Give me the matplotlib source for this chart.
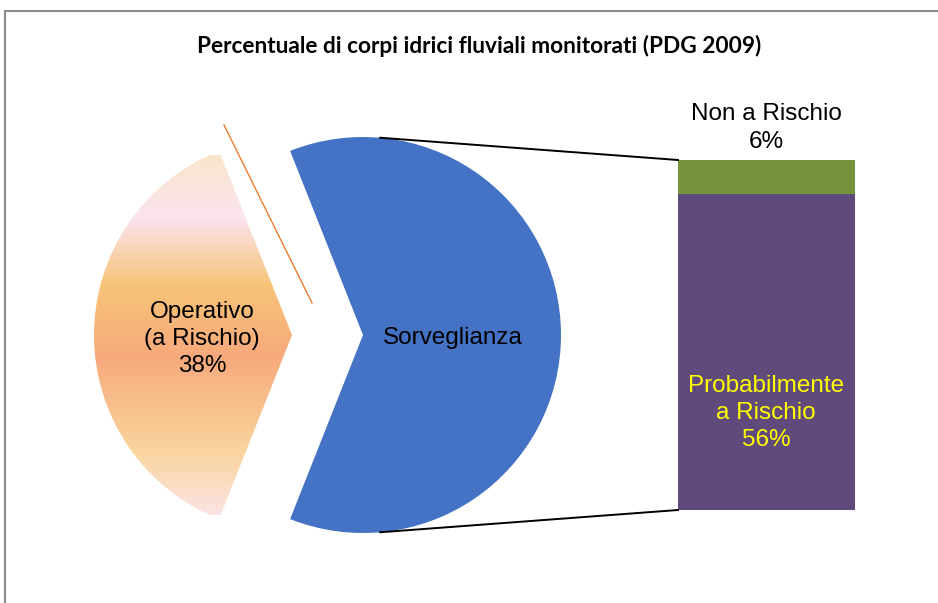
import numpy as np
import matplotlib
matplotlib.use("Agg")
import matplotlib.pyplot as plt
from matplotlib.colors import LinearSegmentedColormap

# ---- data ----
pie_labels = ["Operativo\n(a Rischio)", "Sorveglianza"]
pie_values = [38, 62]
bar_labels = ["Probabilmente\na Rischio", "Non a Rischio"]
bar_values = [56, 6]
title = "Percentuale di corpi idrici fluviali monitorati (PDG 2009)"

W, H = 938, 603
fig = plt.figure(figsize=(W / 100, H / 100), dpi=100)
ax = fig.add_axes([0, 0, 1, 1])
FONT = ["Liberation Sans", "DejaVu Sans"]

# pie geometry (pixel-like data coords, y upward)
cx, cy, R = 363, H - 335, 198
start = 180 - pie_values[0] / 100 * 360 / 2
wedges, _ = ax.pie(pie_values, center=(cx, cy), radius=R, startangle=start,
                   explode=[71, 0], colors=["#F8C57C", "#4472C4"],
                   counterclock=True, wedgeprops=dict(linewidth=0))
ax.set_xlim(0, W)
ax.set_ylim(0, H)
ax.set_aspect("equal")
ax.axis("off")

# gradient fill for the Operativo slice (bottom -> top)
grad_cols = [(0.0, "#FBE4E4"), (0.18, "#F9D49C"), (0.44, "#F7A97C"),
             (0.64, "#F7C478"), (0.825, "#FBE3EE"), (1.0, "#F9E6CB")]
cmap = LinearSegmentedColormap.from_list("op", grad_cols)
ow = wedges[0]
y0p, y1p = H - 515, H - 155
grad = np.linspace(0, 1, 256).reshape(-1, 1)
im = ax.imshow(grad, cmap=cmap, extent=[60, 320, y0p, y1p], origin="lower",
               aspect="auto", zorder=2)
im.set_clip_path(ow)
ow.set_facecolor("none")

# orange thin line
ax.plot([224, 312], [H - 125, H - 303], color="#ED7D31", lw=1, zorder=3)

# stacked bar
bx0, bx1 = 678, 855
btop, bbot = H - 160, H - 510
scale = (btop - bbot) / sum(bar_values)
bottom = bbot
bar_cols = ["#604A7B", "#77933C"]
for v, c in zip(bar_values, bar_cols):
    ax.bar((bx0 + bx1) / 2, v * scale, width=bx1 - bx0, bottom=bottom,
           color=c, linewidth=0, zorder=2)
    bottom += v * scale

# connector lines
ang = np.deg2rad(85)
ax.plot([cx + R * np.cos(ang), bx0], [cy + R * np.sin(ang), btop],
        color="black", lw=1.4, zorder=3)
ax.plot([cx + R * np.cos(ang), bx0], [cy - R * np.sin(ang), bbot],
        color="black", lw=1.4, zorder=3)

# labels
fs = 17.5
ls = 1.32
ax.text(202, H - 339, f"{pie_labels[0]}\n{pie_values[0]}%", ha="center",
        va="center", fontsize=fs, family=FONT, linespacing=ls, zorder=4)
ax.text(453, H - 338, pie_labels[1], ha="center", va="center",
        fontsize=fs, family=FONT, zorder=4)
ax.text(766, H - 128, f"{bar_labels[1]}\n{bar_values[1]}%", ha="center",
        va="center", fontsize=fs, family=FONT, linespacing=ls, zorder=4)
ax.text(766, H - 413, f"{bar_labels[0]}\n{bar_values[0]}%", ha="center",
        va="center", fontsize=fs, family=FONT, linespacing=ls,
        color="#FFFF00", zorder=4)

ax.text(479, H - 46, title, ha="center", va="center", fontsize=16.3,
        fontweight="bold", family=["Lato", "DejaVu Sans"], zorder=4)

# chart border (top and left visible)
ax.plot([5, 5, W], [0, H - 10.5, H - 10.5], color="#8C8C8C", lw=1.5,
        zorder=5, solid_joinstyle="miter")

fig.savefig("out.png", dpi=100)
